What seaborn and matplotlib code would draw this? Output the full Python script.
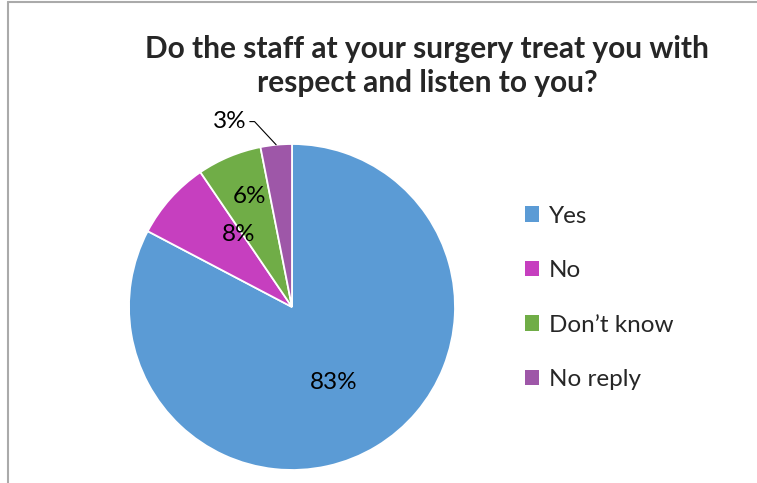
import numpy as np
import matplotlib
matplotlib.use("Agg")
import matplotlib.pyplot as plt
import matplotlib.patches as mpatches
from matplotlib.lines import Line2D
import seaborn as sns

# ── Data ─────────────────────────────────────────────────────────────────────
CATEGORIES = ["Yes", "No", "Don\u2019t know", "No reply"]
SHARES     = [82.7, 7.8, 6.4, 3.1]
COLORS     = ["#5B9BD5", "#C63FBF", "#70AD47", "#9E57A8"]
TITLE      = "Do the staff at your surgery treat you with\nrespect and listen to you?"

# label placement (radius, angle offset in degrees from slice middle)
LABEL_R    = [0.53, 0.55, 0.73, 1.20]
LABEL_DA   = [-2.0, -12.0, -1.5, 13.0]

sns.set_theme(style="white")
plt.rcParams["font.family"] = ["Lato", "DejaVu Sans"]

W, H = 757, 483
fig = plt.figure(figsize=(W / 100, H / 100), dpi=100)

# pie axes: centre (292, 307) px, radius 163 px
cx, cy, r = 292, 307, 163
ax = fig.add_axes([(cx - r) / W, (H - cy - r) / H, 2 * r / W, 2 * r / H])
wedges, _ = ax.pie(SHARES, colors=COLORS, startangle=90, counterclock=False,
                   radius=1.0,
                   wedgeprops=dict(edgecolor="white", linewidth=1.3))
ax.set_xlim(-1, 1)
ax.set_ylim(-1, 1)
ax.set_aspect("equal")
ax.axis("off")

for w, share, rr, da in zip(wedges, SHARES, LABEL_R, LABEL_DA):
    mid = np.deg2rad((w.theta1 + w.theta2) / 2 + da)
    tx, ty = rr * np.cos(mid), rr * np.sin(mid)
    label = f"{share:.0f}%"
    if rr > 1:
        emid = np.deg2rad((w.theta1 + w.theta2) / 2)
        ex, ey = np.cos(emid), np.sin(emid)
        ax.annotate(label, xy=(ex, ey), xytext=(tx, ty),
                    ha="center", va="center", fontsize=17.5, color="black",
                    annotation_clip=False,
                    arrowprops=dict(arrowstyle="-", color="black", lw=0.8,
                                    shrinkA=0, shrinkB=0,
                                    connectionstyle="angle,angleA=0,angleB=133,rad=0"))
    else:
        ax.text(tx, ty, label, ha="center", va="center", fontsize=17.5, color="black")

# title
fig.text(427 / W, 1 - 66 / H, TITLE, ha="center", va="center",
         fontsize=21.5, fontweight="bold", linespacing=1.3)

# legend
handles = [mpatches.Patch(facecolor=c, edgecolor="none") for c in COLORS]
fig.legend(handles, CATEGORIES, loc="center left",
           bbox_to_anchor=(503 / W, 1 - 298 / H), frameon=False,
           fontsize=17.5, labelspacing=1.38, handlelength=0.6, handleheight=0.6,
           handletextpad=0.4)

# chart area border (top and left only visible)
fig.add_artist(Line2D([8 / W, 8 / W], [0, 1 - 2 / H], color="#AAAAAA", lw=1.5,
                      transform=fig.transFigure))
fig.add_artist(Line2D([8 / W, 1], [1 - 2 / H, 1 - 2 / H], color="#AAAAAA", lw=1.5,
                      transform=fig.transFigure))

fig.savefig("out.png", dpi=100)
plt.close(fig)
